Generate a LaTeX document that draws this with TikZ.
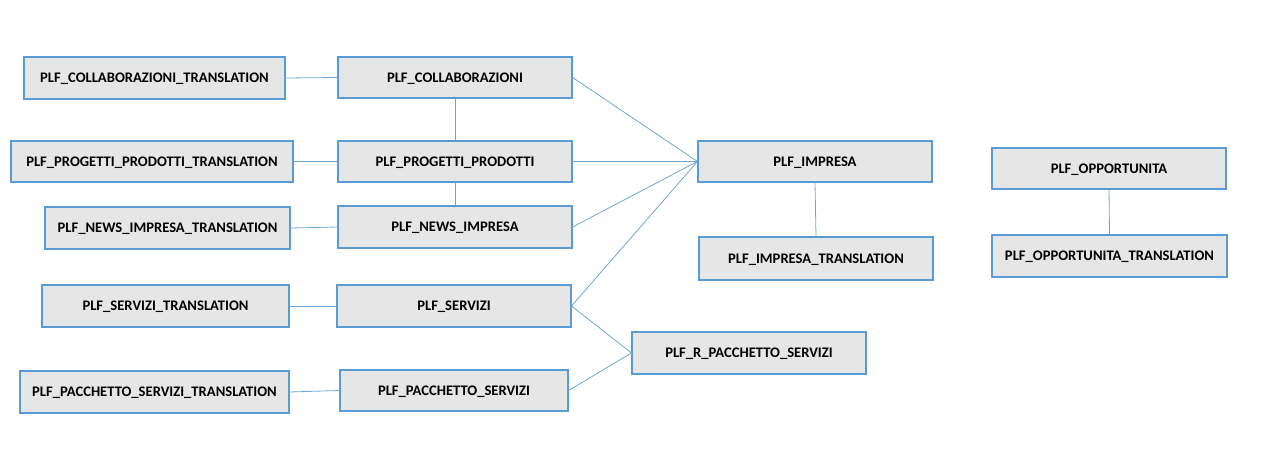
\documentclass[tikz,border=0pt]{standalone}
\usepackage{fontspec}
\setmainfont{Carlito}
\definecolor{boxfill}{HTML}{E6E6E6}
\definecolor{boxline}{HTML}{5B9BD5}
\definecolor{conn}{HTML}{6FA6DA}
\tikzset{
  tbl/.style={draw=boxline, fill=boxfill, line width=1.1pt, inner sep=0pt,
    text height=9.4pt, text depth=0pt,
    font=\bfseries\fontsize{14.6}{16}\selectfont, text=black},
  link/.style={draw=conn, line width=0.8pt}
}
\newcommand{\tb}[6]{% name, l, t, r, b, text
  \node[tbl, minimum width={#4-#2}, minimum height={#5-#3}] (#1) at ({(#2+#4)/2},{(#3+#5)/2}) {#6};}
\begin{document}
\begin{tikzpicture}[x=1pt,y=-1pt]
\useasboundingbox (0,0) rectangle (1276,454);
\tb{ct}{24}{57}{285}{99}{PLF\_COLLABORAZIONI\_TRANSLATION}
\tb{c}{338}{57}{572}{98}{PLF\_COLLABORAZIONI}
\tb{pt}{11}{141}{293}{182}{PLF\_PROGETTI\_PRODOTTI\_TRANSLATION}
\tb{p}{338}{141}{572}{182}{PLF\_PROGETTI\_PRODOTTI}
\tb{nt}{45}{207}{290}{249}{PLF\_NEWS\_IMPRESA\_TRANSLATION}
\tb{n}{338}{206}{572}{248}{PLF\_NEWS\_IMPRESA}
\tb{st}{42}{285}{289}{327}{PLF\_SERVIZI\_TRANSLATION}
\tb{s}{337}{285}{571}{327}{PLF\_SERVIZI}
\tb{kt}{20}{371}{289}{413}{PLF\_PACCHETTO\_SERVIZI\_TRANSLATION}
\tb{k}{340}{370}{568}{411}{PLF\_PACCHETTO\_SERVIZI}
\tb{i}{698}{141}{932}{182}{PLF\_IMPRESA}
\tb{it}{699}{237}{933}{280}{PLF\_IMPRESA\_TRANSLATION}
\tb{r}{632}{332}{866}{374}{PLF\_R\_PACCHETTO\_SERVIZI}
\tb{o}{992}{148}{1226}{189}{PLF\_OPPORTUNITA}
\tb{ot}{992}{235}{1227}{277}{PLF\_OPPORTUNITA\_TRANSLATION}

\draw[link] (ct.east) -- (c.west);
\draw[link] (c.south) -- (p.north);
\draw[link] (pt.east) -- (p.west);
\draw[link] (p.south) -- (n.north);
\draw[link] (nt.east) -- (n.west);
\draw[link] (st.east) -- (s.west);
\draw[link] (kt.east) -- (k.west);
\draw[link] (c.east) -- (i.west);
\draw[link] (p.east) -- (i.west);
\draw[link] (n.east) -- (i.west);
\draw[link] (s.east) -- (i.west);
\draw[link] (s.east) -- (r.west);
\draw[link] (k.east) -- (r.west);
\draw[link] (i.south) -- (it.north);
\draw[link] (o.south) -- (ot.north);
\end{tikzpicture}
\end{document}
